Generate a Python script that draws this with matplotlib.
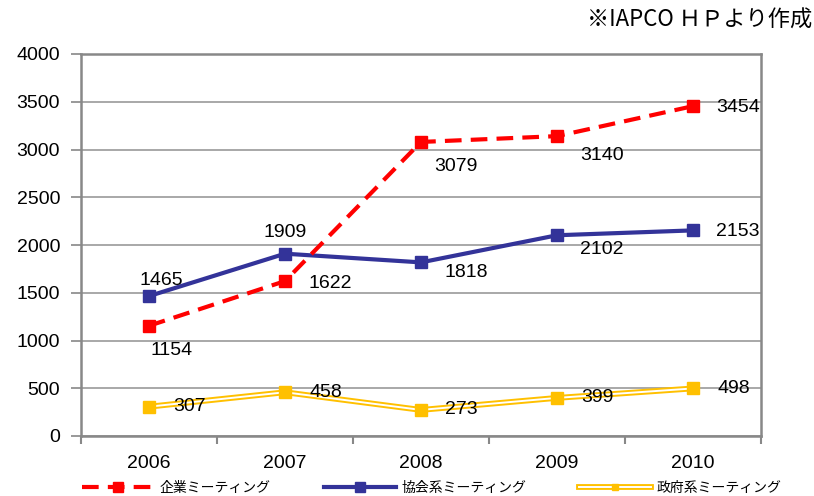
import matplotlib
matplotlib.use("Agg")
import matplotlib.pyplot as plt
from matplotlib.lines import Line2D
from matplotlib.legend_handler import HandlerTuple
import numpy as np

years = ["2006", "2007", "2008", "2009", "2010"]
corporate = [1154, 1622, 3079, 3140, 3454]
association = [1465, 1909, 1818, 2102, 2153]
government = [307, 458, 273, 399, 498]
series_names = ["企業ミーティング", "協会系ミーティング", "政府系ミーティング"]
source_note = "※IAPCO ＨＰより作成"

plt.rcParams['font.family'] = ['Liberation Sans', 'Noto Sans CJK JP', 'DejaVu Sans']

fig = plt.figure(figsize=(8.14, 4.96), dpi=100)
ax = fig.add_axes([81/814, 60/496, 680/814, 382/496])

x = np.arange(len(years))
red = "#FF0000"
blue = "#333399"
yellow = "#FFC000"

# government: double line (yellow outer, white core) + square markers
ax.plot(x, government, color=yellow, lw=4.2, zorder=3)
ax.plot(x, government, color='white', lw=1.4, zorder=3.1)
ax.plot(x, government, ls='none', marker='s', markersize=8, zorder=3.2,
        markerfacecolor=yellow, markeredgecolor=yellow)
ax.plot(x, association, color=blue, lw=3, marker='s', markersize=9, zorder=4,
        markerfacecolor=blue, markeredgecolor=blue)
ax.plot(x, corporate, color=red, lw=3, ls=(0, (4, 2.2)), marker='s', markersize=9, zorder=5,
        markerfacecolor=red, markeredgecolor=red)

fs = 14
def lab(xi, v, dx, dy, ha='left'):
    ax.annotate(str(v), (xi, v), xytext=(dx, dy), textcoords='offset pixels',
                ha=ha, va='center', fontsize=fs, color='black', zorder=6)

# corporate
lab(0, corporate[0], 1, -25)
lab(1, corporate[1], 24, -2)
lab(2, corporate[2], 13, -25)
lab(3, corporate[3], 23, -19)
lab(4, corporate[4], 23, -1)
# association
lab(0, association[0], 12, 16, ha='center')
lab(1, association[1], 0, 21, ha='center')
lab(2, association[2], 23, -10)
lab(3, association[3], 23, -14)
lab(4, association[4], 23, -1)
# government
for i, v in enumerate(government):
    lab(i, v, 24, 0)

ax.set_xlim(-0.5, 4.5)
ax.set_ylim(0, 4000)
ax.set_yticks(np.arange(0, 4001, 500))
ax.set_xticks(x)
ax.set_xticklabels(years)
ax.set_xticks(np.arange(-0.5, 4.6, 1), minor=True)
ax.tick_params(axis='x', which='major', length=0, labelsize=fs, pad=14)
ax.tick_params(axis='x', which='minor', length=6, width=1.5, color='#888888')
ax.tick_params(axis='y', length=7, width=1.2, color='#888888', labelsize=fs, pad=8)
ax.grid(axis='y', color='#999999', lw=1.2, zorder=0)
for s in ax.spines.values():
    s.set_color('#888888')
    s.set_linewidth(1.8)

h_red = Line2D([], [], color=red, lw=3, ls=(0, (4, 2.2)), marker='s', markersize=7,
               markerfacecolor=red, markeredgecolor=red)
h_blue = Line2D([], [], color=blue, lw=3, marker='s', markersize=7,
                markerfacecolor=blue, markeredgecolor=blue)
h_y1 = Line2D([], [], color=yellow, lw=4.2)
h_y2 = Line2D([], [], color='white', lw=1.4)
h_y3 = Line2D([], [], ls='none', marker='s', markersize=5, markerfacecolor=yellow, markeredgecolor=yellow)
leg = fig.legend([h_red, h_blue, (h_y1, h_y2, h_y3)], series_names, loc='center',
                 bbox_to_anchor=(432/814, 8/496),
                 handler_map={tuple: HandlerTuple(ndivide=1, pad=0)},
                 ncol=3, frameon=False, handlelength=5.2, columnspacing=3.8, handletextpad=0.4,
                 prop={'family': ['Noto Sans CJK JP'], 'size': 10})

fig.text(812/814, 1 - 20/496, source_note, ha='right', va='center', fontsize=16,
         family=['Noto Sans CJK JP'])

fig.savefig("out.png", dpi=100)
